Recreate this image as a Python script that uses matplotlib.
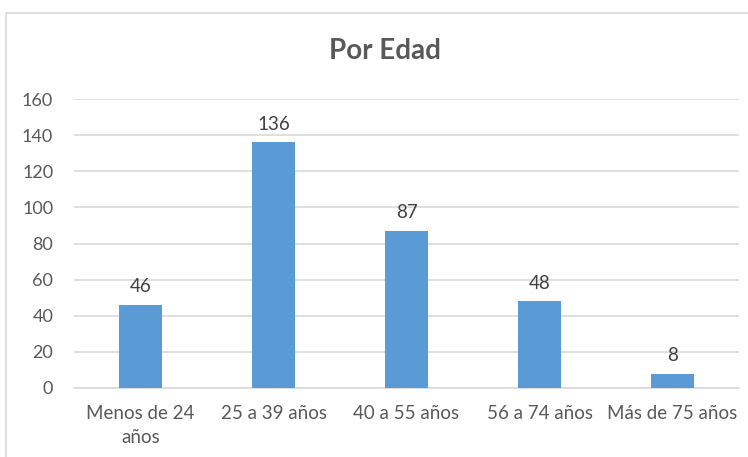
import matplotlib.pyplot as plt
from matplotlib.patches import Rectangle

plt.rcParams['font.family'] = ['Lato', 'DejaVu Sans']

categories = ["Menos de 24\naños", "25 a 39 años", "40 a 55 años", "56 a 74 años", "Más de 75 años"]
values = [46, 136, 87, 48, 8]
yticks = [0, 20, 40, 60, 80, 100, 120, 140, 160]

BAR_COLOR = "#5B9BD5"
TEXT_COLOR = "#595959"
GRID_COLOR = "#D9D9D9"

fig = plt.figure(figsize=(7.48, 4.57), dpi=100)

# chart frame like excel
fig.patches.append(Rectangle((0.008, -0.1), 1.2, 1.072, transform=fig.transFigure,
                             fill=False, edgecolor=GRID_COLOR, linewidth=1.2))

ax = fig.add_axes([0.099, 0.151, 0.889, 0.632])

x = range(len(categories))
bars = ax.bar(x, values, width=0.32, color=BAR_COLOR, zorder=3)

for b, v in zip(bars, values):
    ax.annotate(str(v), (b.get_x() + b.get_width() / 2, v), xytext=(0, 7),
                textcoords="offset points", ha="center", va="bottom",
                fontsize=13.5, color="#404040")

ax.set_xlim(-0.5, len(categories) - 0.5)
ax.set_ylim(0, 160)
ax.set_yticks(yticks)
ax.set_xticks(list(x))
ax.set_xticklabels(categories, fontsize=13.5, color=TEXT_COLOR, linespacing=1.55)
ax.tick_params(axis="y", labelsize=13, labelcolor=TEXT_COLOR, length=0, pad=15)
ax.tick_params(axis="x", length=0, pad=12)

ax.grid(axis="y", color=GRID_COLOR, linewidth=1.2, zorder=0)
for s in ["top", "right", "left"]:
    ax.spines[s].set_visible(False)
ax.spines["bottom"].set_color(GRID_COLOR)
ax.spines["bottom"].set_linewidth(1.2)

fig.text(0.515, 0.888, "Por Edad", ha="center", va="center",
         fontsize=20, fontweight="bold", color=TEXT_COLOR)

fig.savefig("out.png", dpi=100)
